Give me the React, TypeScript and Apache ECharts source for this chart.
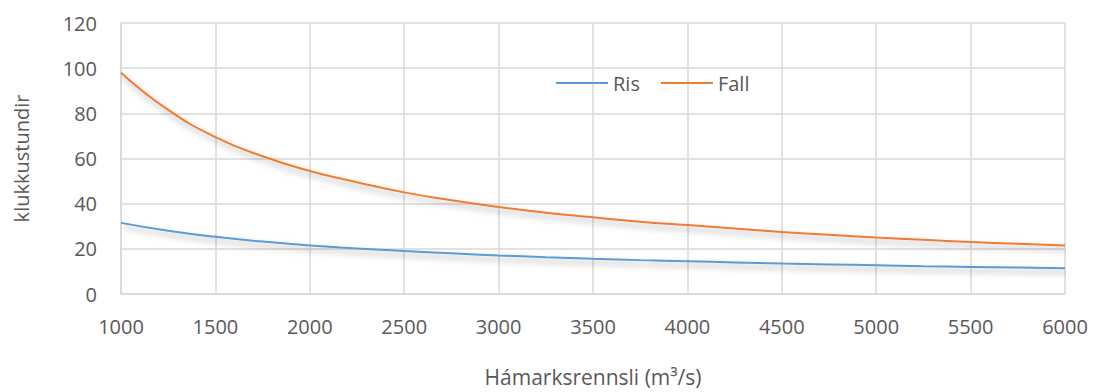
import React, { useEffect, useRef } from "react";
import * as echarts from "echarts";

const xValues = [1000, 1250, 1500, 1750, 2000, 2250, 2500, 2750, 3000, 3250, 3500, 3750, 4000, 4250, 4500, 4750, 5000, 5250, 5500, 5750, 6000];
const risValues = [31.5, 28, 25.3, 23.2, 21.5, 20.2, 19, 18, 17.1, 16.3, 15.6, 15, 14.5, 14, 13.5, 13.1, 12.7, 12.3, 12, 11.7, 11.4];
const fallValues = [98, 81.5, 69.5, 61, 54.5, 49.5, 45, 41.5, 38.5, 36, 34, 32, 30.5, 29, 27.5, 26.2, 25, 24, 23, 22.2, 21.5];
const seriesNames = ["Ris", "Fall"];
const xAxisTitle = "Hámarksrennsli (m³/s)";
const yAxisTitle = "klukkustundir";

const FONT = "Open Sans";
const TEXT = "#595959";
const GRID = "#d9d9d9";

export default function App() {
  const ref = useRef<HTMLDivElement>(null);
  useEffect(() => {
    if (!ref.current) return;
    const chart = echarts.init(ref.current, undefined, { renderer: "svg" });
    const mk = (vals: number[]) => xValues.map((x, i) => [x, vals[i]]);
    const shadow = {
      shadowColor: "rgba(0,0,0,0.35)",
      shadowBlur: 6,
      shadowOffsetX: 2,
      shadowOffsetY: 4,
    };
    chart.setOption({
      animation: false,
      backgroundColor: "#fff",
      grid: { left: 121, right: 29, top: 23, bottom: 92, containLabel: false },
      legend: {
        data: seriesNames,
        left: 551,
        top: 68,
        itemWidth: 52,
        itemHeight: 2,
        itemGap: 21,
        icon: "rect",
        textStyle: { fontFamily: FONT, fontSize: 20, color: TEXT },
      },
      xAxis: {
        type: "value",
        min: 1000,
        max: 6000,
        interval: 500,
        name: xAxisTitle,
        nameLocation: "middle",
        nameGap: 72,
        nameTextStyle: { fontFamily: FONT, fontSize: 21, color: TEXT },
        axisLine: { show: true, lineStyle: { color: GRID, width: 1.5 } },
        axisTick: { show: false },
        axisLabel: {
          fontFamily: FONT,
          fontSize: 20,
          color: TEXT,
          margin: 22,
          formatter: (v: number) => String(v),
        },
        splitLine: { show: true, lineStyle: { color: GRID, width: 1.5 } },
      },
      yAxis: {
        type: "value",
        min: 0,
        max: 120,
        interval: 20,
        name: yAxisTitle,
        nameLocation: "middle",
        nameGap: 90,
        nameRotate: 90,
        nameTextStyle: { fontFamily: FONT, fontSize: 20, color: TEXT },
        axisLine: { show: true, lineStyle: { color: GRID, width: 1.5 } },
        axisTick: { show: false },
        axisLabel: {
          fontFamily: FONT,
          fontSize: 20,
          color: TEXT,
          margin: 24,
          formatter: (v: number) => String(v),
        },
        splitLine: { show: true, lineStyle: { color: GRID, width: 1.5 } },
      },
      series: [
        {
          name: seriesNames[0],
          type: "line",
          data: mk(risValues),
          smooth: true,
          symbol: "none",
          itemStyle: { color: "#5b9bd5" },
          lineStyle: { color: "#5b9bd5", width: 2, ...shadow },
        },
        {
          name: seriesNames[1],
          type: "line",
          data: mk(fallValues),
          smooth: true,
          symbol: "none",
          itemStyle: { color: "#ed7d31" },
          lineStyle: { color: "#ed7d31", width: 2, ...shadow },
        },
      ],
    });
    return () => chart.dispose();
  }, []);
  return <div ref={ref} style={{ width: 1094, height: 392, position: "absolute", left: 0, top: 0 }} />;
}
